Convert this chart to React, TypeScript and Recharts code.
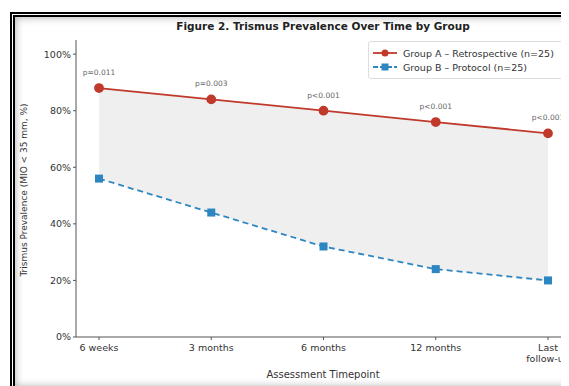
import React from "react";
import { ComposedChart, Line, Area, XAxis, YAxis, LabelList } from "recharts";

const timepoints = ["6 weeks", "3 months", "6 months", "12 months", "Last\nfollow-up"];
const groupA = [88, 84, 80, 76, 72];
const groupB = [56, 44, 32, 24, 20];
const pValues = ["p=0.011", "p=0.003", "p<0.001", "p<0.001", "p<0.001"];
const yTicks = [0, 20, 40, 60, 80, 100];

const data = timepoints.map((t, i) => ({
  t,
  a: groupA[i],
  b: groupB[i],
  range: [groupB[i], groupA[i]],
  p: pValues[i],
}));

const RED = "#c0392b";
const BLUE = "#2e86c1";
const FONT = "DejaVu Sans, sans-serif";

const XTick = (props: any) => {
  const { x, y, payload } = props;
  const lines = String(payload.value).split("\n");
  return (
    <text x={x} y={y + 9} textAnchor="middle" fontSize={9.5} fill="#333" fontFamily={FONT}>
      {lines.map((l: string, i: number) => (
        <tspan key={i} x={x} dy={i === 0 ? 0 : 11}>
          {l}
        </tspan>
      ))}
    </text>
  );
};

const SquareDot = (props: any) => {
  const { cx, cy } = props;
  if (cx == null || cy == null) return null;
  return <rect x={cx - 4} y={cy - 4} width={8} height={8} fill={BLUE} />;
};

const PLabel = (props: any) => {
  const { x, y, value } = props;
  return (
    <text x={x} y={y - 13} textAnchor="middle" fontSize={7.5} fill="#666" fontFamily={FONT}>
      {value}
    </text>
  );
};

export default function App() {
  return (
    <div style={{ position: "relative", left: -8, top: -8, width: 569, height: 386, overflow: "hidden", background: "#fff" }}>
      <div
        style={{
          position: "absolute",
          left: 10,
          top: 12,
          width: 600,
          height: 380,
          border: "5px double #000",
          boxShadow: "inset 0 0 8px rgba(0,0,0,0.35)",
          boxSizing: "border-box",
        }}
      />
      <div
        style={{
          position: "absolute",
          left: 0,
          top: 19,
          width: 646,
          textAlign: "center",
          fontFamily: FONT,
          fontSize: 10.5,
          lineHeight: "14px",
          fontWeight: "bold",
          color: "#222",
          whiteSpace: "nowrap",
        }}
      >
        Figure 2. Trismus Prevalence Over Time by Group
      </div>
      <div style={{ position: "absolute", left: 0, top: 0 }}>
        <ComposedChart
          width={600}
          height={386}
          data={data}
          margin={{ top: 40, right: 29, bottom: 0, left: 0 }}
        >
          <XAxis
            dataKey="t"
            tick={<XTick />}
            interval={0}
            height={49}
            tickLine={{ stroke: "#555" }}
            tickSize={3}
            axisLine={{ stroke: "#555" }}
            padding={{ left: 23, right: 23 }}
          />
          <YAxis
            type="number"
            domain={[0, 105]}
            ticks={yTicks}
            tickFormatter={(v: number) => `${v}%`}
            tick={{ fontSize: 9.5, fill: "#333", fontFamily: FONT }}
            tickLine={{ stroke: "#555" }}
            tickSize={3}
            axisLine={{ stroke: "#555" }}
            width={76}
          />
          <Area
            dataKey="range"
            stroke="none"
            fill="#ebebeb"
            fillOpacity={0.8}
            isAnimationActive={false}
          />
          <Line
            dataKey="a"
            stroke={RED}
            strokeWidth={1.8}
            dot={{ r: 4, fill: RED, stroke: RED }}
            isAnimationActive={false}
          >
            <LabelList dataKey="p" content={<PLabel />} />
          </Line>
          <Line
            dataKey="b"
            stroke={BLUE}
            strokeWidth={1.8}
            strokeDasharray="6 4"
            dot={<SquareDot />}
            isAnimationActive={false}
          />
        </ComposedChart>
      </div>
      <div
        style={{
          position: "absolute",
          left: 18,
          top: 80,
          width: 12,
          height: 220,
          display: "flex",
          alignItems: "center",
          justifyContent: "center",
        }}
      >
        <div
          style={{
            transform: "rotate(-90deg)",
            whiteSpace: "nowrap",
            fontFamily: FONT,
            fontSize: 9,
            color: "#333",
          }}
        >
          Trismus Prevalence (MIO &lt; 35 mm, %)
        </div>
      </div>
      <div
        style={{
          position: "absolute",
          left: 0,
          top: 368,
          width: 646,
          textAlign: "center",
          fontFamily: FONT,
          fontSize: 10,
          lineHeight: "14px",
          color: "#333",
          whiteSpace: "nowrap",
        }}
      >
        Assessment Timepoint
      </div>
      <div
        style={{
          position: "absolute",
          left: 368,
          top: 41,
          width: 199,
          padding: "4px 0 4px 4px",
          border: "1px solid #ddd",
          borderRadius: 3,
          background: "rgba(255,255,255,0.9)",
          fontFamily: FONT,
          fontSize: 9.5,
          color: "#333",
          boxSizing: "border-box",
          whiteSpace: "nowrap",
        }}
      >
        <div style={{ display: "flex", alignItems: "center", height: 14 }}>
          <svg width={24} height={10}>
            <line x1={0} y1={5} x2={24} y2={5} stroke={RED} strokeWidth={1.8} />
            <circle cx={12} cy={5} r={3.5} fill={RED} />
          </svg>
          <span style={{ marginLeft: 6 }}>Group A – Retrospective (n=25)</span>
        </div>
        <div style={{ display: "flex", alignItems: "center", height: 14 }}>
          <svg width={24} height={10}>
            <line x1={0} y1={5} x2={24} y2={5} stroke={BLUE} strokeWidth={1.8} strokeDasharray="5 2" />
            <rect x={8.5} y={1.5} width={7} height={7} fill={BLUE} />
          </svg>
          <span style={{ marginLeft: 6 }}>Group B – Protocol (n=25)</span>
        </div>
      </div>
    </div>
  );
}
